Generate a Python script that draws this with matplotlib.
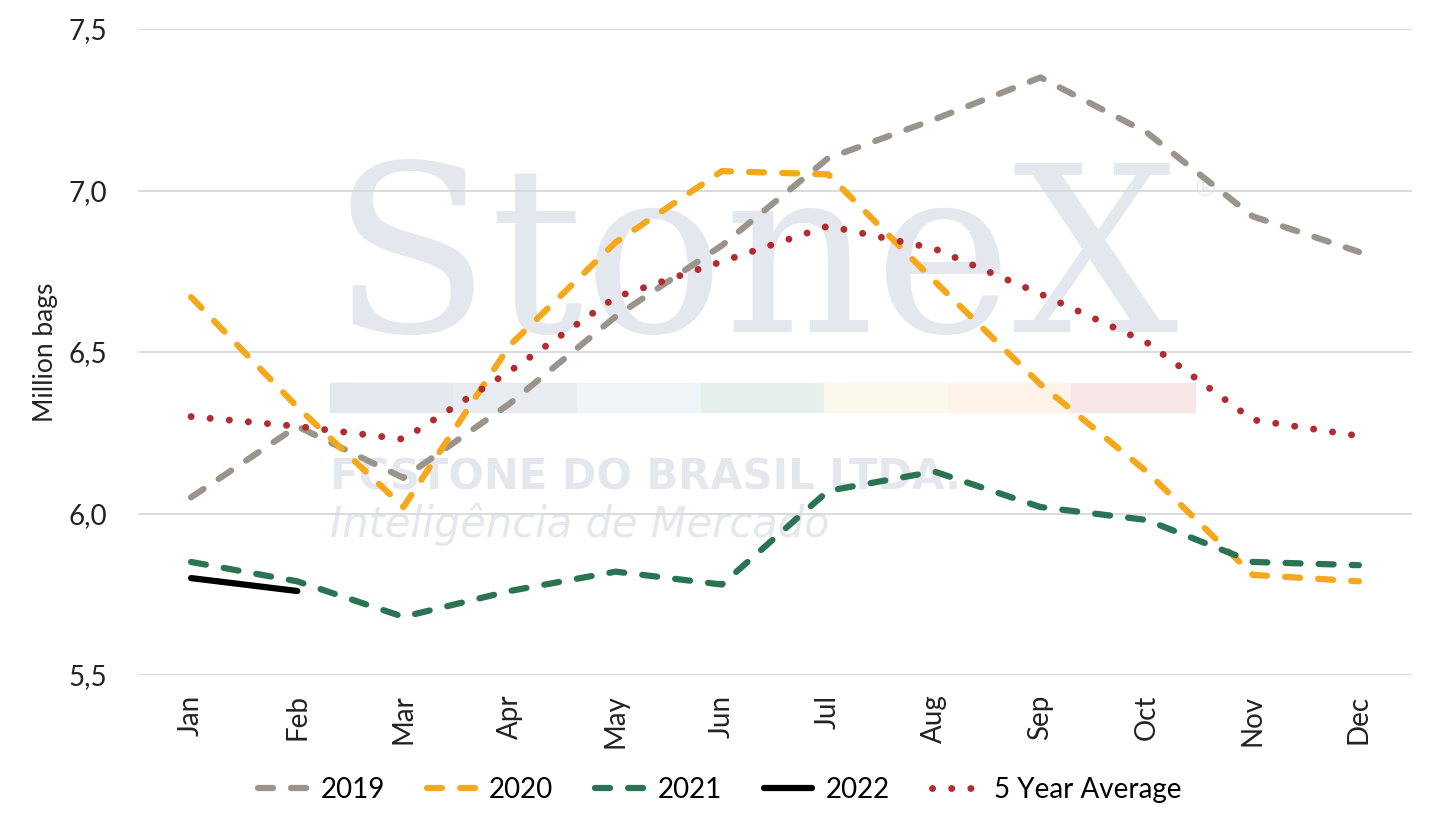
import numpy as np
import matplotlib
matplotlib.use("Agg")
import matplotlib.pyplot as plt
from matplotlib.ticker import FuncFormatter
from matplotlib.patches import Rectangle

months = ["Jan", "Feb", "Mar", "Apr", "May", "Jun", "Jul", "Aug", "Sep", "Oct", "Nov", "Dec"]
y2019 = [6.05, 6.27, 6.11, 6.34, 6.61, 6.83, 7.10, 7.22, 7.35, 7.18, 6.92, 6.81]
y2020 = [6.67, 6.33, 6.02, 6.52, 6.84, 7.06, 7.05, 6.72, 6.40, 6.13, 5.81, 5.79]
y2021 = [5.85, 5.79, 5.68, 5.76, 5.82, 5.78, 6.07, 6.13, 6.02, 5.98, 5.85, 5.84]
y2022 = [5.80, 5.76]
avg5 = [6.30, 6.27, 6.23, 6.44, 6.67, 6.78, 6.89, 6.82, 6.68, 6.53, 6.29, 6.24]

plt.rcParams['font.family'] = ['Lato', 'DejaVu Sans']

def watermark(fig, ax):
    # faint company logo behind the lines
    wm = "#e4e8ee"
    tf = fig.transFigure
    ax.text(330/1434, 1 - 332/827, "StoneX", family="DejaVu Serif", fontsize=168,
            color=wm, ha="left", va="baseline", zorder=0.1, transform=tf)
    ax.text(1193/1434, 1 - 197/827, "®", family="DejaVu Sans", fontsize=18,
            color=wm, ha="left", va="baseline", zorder=0.1, transform=tf)
    bar_cols = ["#e4e8ee", "#e8ecf0", "#eff4f9", "#e6f0ea", "#fdf8ec", "#fef3e6", "#f7e6e8"]
    for i, c in enumerate(bar_cols):
        ax.add_patch(Rectangle(((330 + i*123.5)/1434, 1 - 412/827), 123.5/1434, 29/827,
                               transform=tf, color=c, zorder=0.1, clip_on=False))
    ax.text(330/1434, 1 - 490/827, "FCSTONE DO BRASIL LTDA.", family="DejaVu Sans",
            fontsize=30, weight="bold", color=wm, ha="left", va="baseline", zorder=0.1,
            transform=tf)
    ax.text(330/1434, 1 - 537/827, "Inteligência de Mercado", family="DejaVu Sans",
            fontsize=30, style="oblique", color=wm, ha="left", va="baseline", zorder=0.1,
            transform=tf)

def run():
    fig = plt.figure(figsize=(14.34, 8.27), dpi=100)
    ax = fig.add_axes([138/1434, 1 - 675/827, (1412-138)/1434, (675-29)/827])

    watermark(fig, ax)

    x = np.arange(len(months))
    dash = (2.4, 2.9)
    ax.plot(x, y2019, color="#9a948c", lw=4.5, dashes=dash, dash_capstyle="round", label="2019", zorder=2)
    ax.plot(x, y2020, color="#f5a81c", lw=4.5, dashes=dash, dash_capstyle="round", label="2020", zorder=2)
    ax.plot(x, y2021, color="#2a7353", lw=4.5, dashes=dash, dash_capstyle="round", label="2021", zorder=2)
    ax.plot(x[:len(y2022)], y2022, color="black", lw=4.5, solid_capstyle="round", label="2022", zorder=2)
    ax.plot(x, avg5, color="#b22b2f", lw=5, dashes=(0.01, 2.75), dash_capstyle="round",
            label="5 Year Average", zorder=2)

    ax.set_xlim(-0.5, 11.5)
    ax.set_ylim(5.5, 7.5)
    ax.set_yticks([5.5, 6.0, 6.5, 7.0, 7.5])
    ax.yaxis.set_major_formatter(FuncFormatter(lambda v, p: f"{v:.1f}".replace(".", ",")))
    ax.set_xticks(x)
    ax.set_xticklabels(months, rotation=90)
    ax.tick_params(axis="both", length=0, labelsize=20, colors="#222222")
    ax.tick_params(axis="x", pad=14)
    ax.tick_params(axis="y", pad=22)
    ax.grid(axis="y", color="#d9d9d9", lw=1.3)
    ax.set_axisbelow(True)
    for s in ax.spines.values():
        s.set_visible(False)
    ax.set_ylabel("Million bags", fontsize=19, color="#222222", labelpad=8)

    fig.legend(loc="center", bbox_to_anchor=(720/1434, 1 - 790/827), ncol=5, frameon=False,
               fontsize=20, handlelength=1.75, columnspacing=1.5, handletextpad=0.5)

    fig.savefig("out.png", dpi=100)

if __name__ == '__main__':
    run()
